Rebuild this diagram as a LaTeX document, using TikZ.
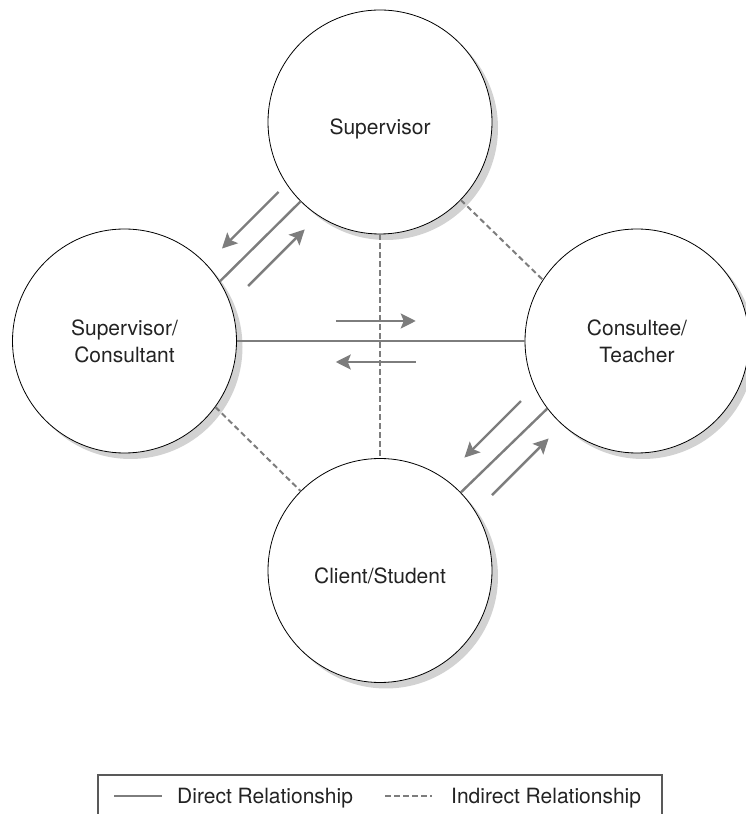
\documentclass[tikz,border=0pt]{standalone}
\usepackage{fontspec}
\setmainfont{TeX Gyre Heros}
\usetikzlibrary{arrows.meta,shadows,calc}

\definecolor{linegrey}{RGB}{125,125,125}
\definecolor{shadegrey}{RGB}{210,210,210}
\definecolor{inkgrey}{RGB}{35,35,35}

\begin{document}
\begin{tikzpicture}[x=1pt, y=1pt,
                    role/.style={draw=black, circle, fill=white, line width=0.8pt,
                                 inner sep=0, minimum size=224pt, align=center,
                                 text=inkgrey, font=\fontsize{21}{27}\selectfont,
                                 drop shadow={shadow xshift=6pt, shadow yshift=-6pt,
                                              fill=shadegrey, opacity=1}},
                    oneline/.style={text height=26pt, text depth=0pt},
                    direct/.style={draw=linegrey, line width=2.4pt},
                    indirect/.style={draw=linegrey, line width=2pt, dash pattern=on 5.5pt off 3.5pt},
                    flow/.style={direct, -{Stealth[length=15pt, width=15pt, inset=3pt]}},
                    legend/.style={anchor=base west, inner sep=0, text=inkgrey,
                                   font=\fontsize{21}{27}\selectfont}]
                \useasboundingbox (0,0) rectangle (746,814);
                \clip (0,0) rectangle (746,814);

                \node (sv) [role, oneline] at (380,692) {Supervisor};
                \node (sc) [role] at (124.5,473) {Supervisor/\\Consultant};
                \node (ct) [role] at (637,473) {Consultee/\\Teacher};
                \node (cs) [role, oneline] at (380,243.5) {Client/Student};

                \draw [indirect] (sv.south) -- (cs.north);
                \draw [indirect] (sv.-44) -- (ct.147);
                \draw [indirect] (sc.-36) -- (cs.135);

                \draw [direct] (sc.32) -- coordinate (m1) (sv.225);
                \draw [flow] ($(m1)+(135:22)+(45:48)$) -- ++(225:80);
                \draw [flow] ($(m1)+(-45:23)+(225:40)$) -- ++(45:80);

                \draw [direct] (sc.east) -- coordinate (m3) (ct.west);
                \draw [flow] ($(m3)+(90:20)+(180:45)$) -- ++(0:80);
                \draw [flow] ($(m3)+(-90:21)+(0:35)$) -- ++(180:80);

                \draw [direct] (cs.44) -- coordinate (m2) (ct.217);
                \draw [flow] ($(m2)+(135:23)+(45:47)$) -- ++(225:80);
                \draw [flow] ($(m2)+(-45:23)+(225:40)$) -- ++(45:80);

                \draw [black!65, line width=1.5pt] (98,-10) rectangle (662,39);
                \coordinate (d0) at (114,18);
                \coordinate (d1) at (162,18);
                \draw [direct] (d0) -- (d1);
                \node (dlab) [legend] at (177,10) {Direct Relationship};
                \coordinate (i0) at (385,18);
                \coordinate (i1) at (432,18);
                \draw [indirect] (i0) -- (i1);
                \node (ilab) [legend] at (451,10) {Indirect Relationship};
            \end{tikzpicture}
\end{document}
